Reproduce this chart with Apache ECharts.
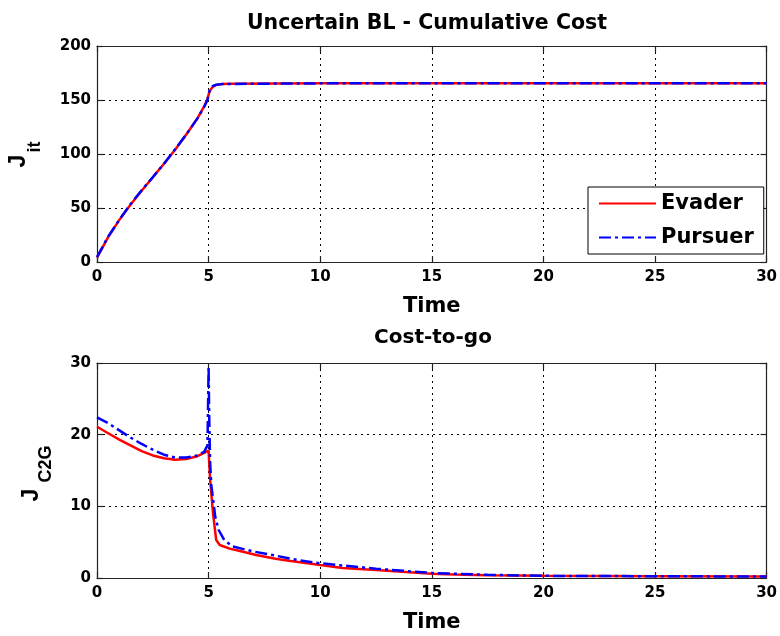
<!DOCTYPE html>
<html>
<head>
<meta charset="utf-8">
<script src="https://cdn.jsdelivr.net/npm/echarts@6/dist/echarts.min.js"></script>
<style>
  html, body { margin: 0; padding: 0; background: #ffffff; }
  #chart { width: 780px; height: 636px; }
</style>
</head>
<body>
<div id="chart"></div>
<script>
// ---- Cumulative cost J_it (upper panel) ----
const costTime    = [0, 0.5, 1, 1.5, 2, 2.5, 3, 3.5, 4, 4.5, 4.8, 4.95, 5.03, 5.1, 5.2, 5.35, 5.6, 6, 8, 10, 15, 20, 25, 30];
const costEvader  = [4, 23, 39, 53, 66, 78.5, 91, 104, 118, 133, 144, 151, 157, 160, 162.5, 164, 164.8, 165, 165.3, 165.5, 165.5, 165.5, 165.5, 165.5];
const costPursuer = [4.5, 23.5, 39, 53.5, 66.5, 78.5, 91, 104.5, 118, 133, 143.5, 150, 158, 161, 163, 164.2, 164.7, 164.9, 165.2, 165.4, 165.5, 165.5, 165.5, 165.5];

// ---- Cost-to-go J_C2G (lower panel) ----
const c2gTimeE   = [0, 0.5, 1, 1.5, 2, 2.5, 3, 3.5, 4, 4.5, 4.9, 5.0, 5.02, 5.07, 5.2, 5.34, 5.5, 5.94, 6.5, 7.13, 8, 8.6, 10, 11, 12.5, 14, 15, 16, 17.5, 20, 25, 30];
const c2gEvader  = [21.1, 20.2, 19.3, 18.5, 17.7, 17.1, 16.7, 16.5, 16.6, 17.0, 17.6, 17.8, 16.5, 13.7, 9.0, 5.3, 4.6, 4.1, 3.7, 3.2, 2.7, 2.4, 1.8, 1.4, 1.1, 0.8, 0.6, 0.5, 0.4, 0.3, 0.25, 0.2];
const c2gTimeP   = [0, 0.5, 1, 1.5, 2, 2.5, 3, 3.5, 4, 4.5, 4.8, 4.95, 5.0, 5.03, 5.07, 5.12, 5.2, 5.3, 5.45, 5.7, 6.08, 7, 7.87, 9, 10, 12.5, 15, 17.5, 20, 25, 30];
const c2gPursuer = [22.4, 21.6, 20.6, 19.6, 18.7, 17.9, 17.2, 16.8, 16.8, 17.1, 17.6, 18.5, 29.5, 22, 16, 13, 11, 8.5, 6.7, 5.3, 4.4, 3.7, 3.2, 2.5, 2.05, 1.3, 0.7, 0.45, 0.3, 0.25, 0.2];

// ---- Axis ranges / ticks ----
const timeRange = [0, 30, 5];
const costRange = [0, 200, 50];
const c2gRange  = [0, 30, 10];

const seriesNames = ['Evader', 'Pursuer'];
const panelTitles = ['Uncertain BL - Cumulative Cost', 'Cost-to-go'];
const xLabel = 'Time';
const yLabelMain = 'J';
const yLabelSubs = ['it', 'C2G'];

const zip = (xs, ys) => xs.map((x, i) => [x, ys[i]]);

const frameColor = '#222';
const boldFont = 'DejaVu Sans';
const tickFont = 'DejaVu Sans';
const symFont = 'Liberation Sans';

const gridBoxes = [
  { left: 97, top: 46, width: 672, height: 216 },
  { left: 97, top: 363, width: 672, height: 215 }
];

function mainX(gridIndex) {
  return {
    type: 'value', gridIndex,
    min: timeRange[0], max: timeRange[1], interval: timeRange[2],
    name: xLabel, nameLocation: 'middle', nameGap: 34,
    nameTextStyle: { fontFamily: boldFont, fontWeight: 'bold', fontSize: 21, color: '#000' },
    axisLine: { show: true, onZero: false, lineStyle: { color: frameColor, width: 1.2 } },
    axisTick: { show: true, inside: true, length: 6, lineStyle: { color: frameColor, width: 1.2 } },
    axisLabel: { margin: 8, fontFamily: tickFont, fontWeight: 'bold', fontSize: 15, color: '#000' },
    splitLine: { show: true, lineStyle: { color: '#000', width: 1, type: [2, 4] } }
  };
}
function mirrorX(gridIndex) {
  return {
    type: 'value', gridIndex, position: 'top',
    min: timeRange[0], max: timeRange[1], interval: timeRange[2],
    axisLine: { show: true, onZero: false, lineStyle: { color: frameColor, width: 1.2 } },
    axisTick: { show: true, inside: true, length: 6, lineStyle: { color: frameColor, width: 1.2 } },
    axisLabel: { show: false }, splitLine: { show: false }
  };
}
function mainY(gridIndex, range) {
  return {
    type: 'value', gridIndex,
    min: range[0], max: range[1], interval: range[2],
    axisLine: { show: true, onZero: false, lineStyle: { color: frameColor, width: 1.2 } },
    axisTick: { show: true, inside: true, length: 6, lineStyle: { color: frameColor, width: 1.2 } },
    axisLabel: { margin: 6, fontFamily: tickFont, fontWeight: 'bold', fontSize: 15, color: '#000' },
    splitLine: { show: true, lineStyle: { color: '#000', width: 1, type: [2, 4] } }
  };
}
function mirrorY(gridIndex, range) {
  return {
    type: 'value', gridIndex, position: 'right',
    min: range[0], max: range[1], interval: range[2],
    axisLine: { show: true, onZero: false, lineStyle: { color: frameColor, width: 1.2 } },
    axisTick: { show: true, inside: true, length: 6, lineStyle: { color: frameColor, width: 1.2 } },
    axisLabel: { show: false }, splitLine: { show: false }
  };
}

const evaderStyle  = { color: '#ff0000', width: 2.5, type: 'solid' };
const pursuerStyle = { color: '#0000ff', width: 2.5, type: [12, 4, 3, 4] };

function lineSeries(name, data, idx, style) {
  return {
    name, type: 'line', xAxisIndex: idx, yAxisIndex: idx,
    data, symbol: 'none', showSymbol: false, smooth: false,
    lineStyle: style, itemStyle: { color: style.color },
    emphasis: { disabled: true }, animation: false, z: name === seriesNames[1] ? 3 : 2
  };
}

// Rotated y-axis labels: a large "J" with a lowered subscript.
function yAxisLabel(jx, jy, sub, sx, sy) {
  return [
    { type: 'text', x: jx, y: jy, rotation: Math.PI / 2, silent: true,
      style: { text: yLabelMain, fill: '#000', font: 'bold 23px "' + symFont + '"',
               align: 'center', verticalAlign: 'middle' } },
    { type: 'text', x: sx, y: sy, rotation: Math.PI / 2, silent: true,
      style: { text: sub, fill: '#000', font: 'bold 18px "' + symFont + '"',
               align: 'center', verticalAlign: 'middle' } }
  ];
}

const chart = echarts.init(document.getElementById('chart'), null, { renderer: 'canvas' });
chart.setOption({
  backgroundColor: '#ffffff',
  animation: false,
  title: [
    { text: panelTitles[0], left: 422, top: 8, textAlign: 'center',
      textStyle: { fontFamily: boldFont, fontWeight: 'bold', fontSize: 20.5, color: '#000' } },
    { text: panelTitles[1], left: 428, top: 323, textAlign: 'center',
      textStyle: { fontFamily: boldFont, fontWeight: 'bold', fontSize: 20, color: '#000' } }
  ],
  legend: {
    data: seriesNames,
    orient: 'vertical',
    left: 588, top: 187,
    padding: [6, 10, 6, 10],
    itemGap: 13, itemWidth: 57, itemHeight: 14,
    // line sample only, no marker in the key
    itemStyle: { opacity: 0 },
    backgroundColor: '#ffffff', borderColor: '#000', borderWidth: 1, borderRadius: 0,
    textStyle: { fontFamily: boldFont, fontWeight: 'bold', fontSize: 21, color: '#000' },
    selectedMode: false
  },
  grid: gridBoxes.map(g => Object.assign({ show: false }, g)),
  xAxis: [mainX(0), mainX(1), mirrorX(0), mirrorX(1)],
  yAxis: [mainY(0, costRange), mainY(1, c2gRange), mirrorY(0, costRange), mirrorY(1, c2gRange)],
  graphic: [
    ...yAxisLabel(19, 161, yLabelSubs[0], 35, 147),
    ...yAxisLabel(32, 495, yLabelSubs[1], 46, 464)
  ],
  series: [
    lineSeries(seriesNames[0], zip(costTime, costEvader), 0, evaderStyle),
    lineSeries(seriesNames[1], zip(costTime, costPursuer), 0, pursuerStyle),
    lineSeries(seriesNames[0], zip(c2gTimeE, c2gEvader), 1, evaderStyle),
    lineSeries(seriesNames[1], zip(c2gTimeP, c2gPursuer), 1, pursuerStyle)
  ]
});
</script>
</body>
</html>
